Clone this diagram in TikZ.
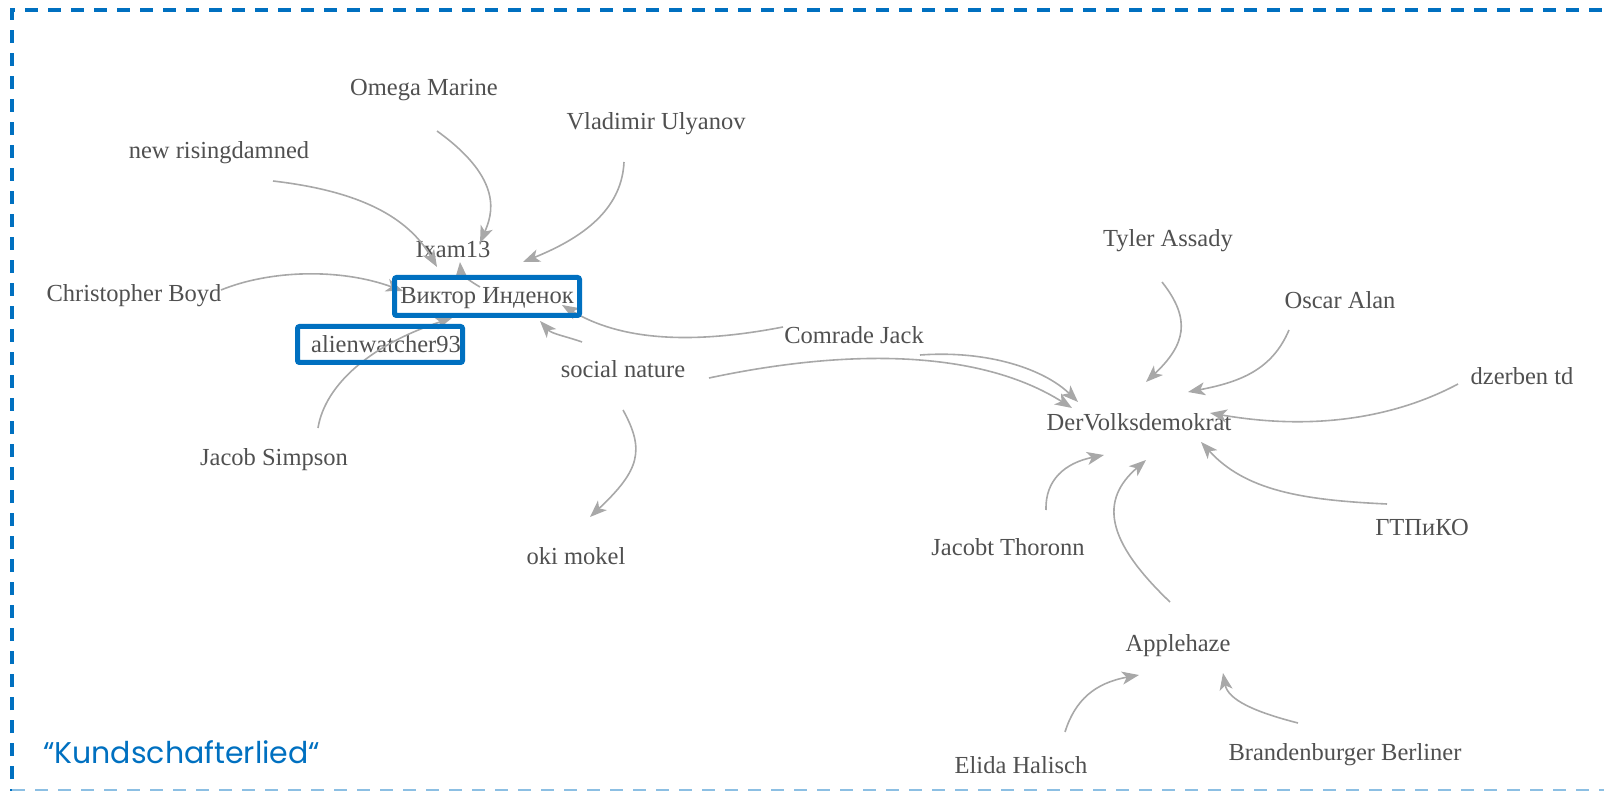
\documentclass[tikz,border=0pt]{standalone}
\usepackage{fontspec}
\setmainfont{Liberation Serif}
\newfontfamily\captionfont{Poppins}
\usetikzlibrary{calc,arrows.meta}
\definecolor{frameblue}{RGB}{0,112,192}
\definecolor{edgegray}{RGB}{168,168,168}
\definecolor{labelgray}{RGB}{80,80,80}
\tikzset{
  lbl/.style={inner sep=0pt, text=labelgray, text height=19pt, text depth=2pt,
    font=\fontsize{24.5}{28}\selectfont},
  edge/.style={draw=edgegray, line width=1.6pt,
    -{Stealth[length=17pt, width=13pt, inset=4.5pt]}},
  hlbox/.style={draw=frameblue, line width=5pt, rounded corners=2pt, inner sep=0pt},
}
\begin{document}
\begin{tikzpicture}[x=1pt, y=-1pt]
\useasboundingbox (0,0) rectangle (1604,791);
\clip (0,0) rectangle (1604,791);

% dashed frame
\draw[frameblue, line width=4pt, dash pattern=on 13pt off 10pt]
  (12,1630) -- (12,10) -- (1640,10);
\draw[frameblue!45, line width=4pt, dash pattern=on 13pt off 10pt]
  (12,791) -- (1640,791);

% labels
\node[lbl] (omega)    at (424,87)   {Omega Marine};
\node[lbl] (vlad)     at (656,121)  {Vladimir Ulyanov};
\node[lbl] (rising)   at (219,150)  {new risingdamned};
\node[lbl] (ixam)     at (453,249)  {Ixam13};
\node[lbl] (boyd)     at (134,293)  {Christopher Boyd};
\node[lbl] (viktor)   at (487,295)  {Виктор Инденок};
\node[lbl] (alien)    at (386,344)  {alienwatcher93};
\node[lbl] (jsimpson) at (274,457)  {Jacob Simpson};
\node[lbl] (social)   at (623,369)  {social nature};
\node[lbl] (comrade)  at (854,335)  {Comrade Jack};
\node[lbl] (oki)      at (576,556)  {oki mokel};
\node[lbl] (tyler)    at (1168,238) {Tyler Assady};
\node[lbl] (oscar)    at (1340,300) {Oscar Alan};
\node[lbl] (dzerben)  at (1522,376) {dzerben td};
\node[lbl] (dvd)      at (1139,422) {DerVolksdemokrat};
\node[lbl] (gtpiko)   at (1422,527) {ГТПиКО};
\node[lbl] (thoronn)  at (1008,547) {Jacobt Thoronn};
\node[lbl] (apple)    at (1178,643) {Applehaze};
\node[lbl] (elida)    at (1021,765) {Elida Halisch};
\node[lbl] (brand)    at (1345,752) {Brandenburger Berliner};

% connectors
\draw[edge] ($(omega)+(13,44)$) .. controls (505,180) and (492,215) .. ($(viktor)+(-7,-52)$);
\draw[edge] ($(rising)+(54,31)$) .. controls (350,190) and (405,212) .. ($(viktor)+(-50,-28)$);
\draw[edge] ($(vlad)+(-32,41)$) .. controls (622,205) and (590,235) .. ($(viktor)+(36,-33)$);
\draw[edge] ($(boyd)+(87,-3)$) .. controls (270,270) and (340,268) .. ($(viktor)+(-84,-4)$);
\draw[edge] ($(jsimpson)+(44,-29)$) .. controls (325,385) and (370,345) .. ($(viktor)+(-35,23)$);
\draw[edge] ($(viktor)+(-7,-8)$) .. controls (468,280) and (461,274) .. ($(ixam)+(7,13)$);
\draw[edge] ($(social)+(-41,-27)$) .. controls (565,336) and (552,334) .. ($(viktor)+(53,26)$);
\draw[edge] ($(comrade)+(-71,-8)$) .. controls (690,345) and (620,340) .. ($(viktor)+(75,10)$);
\draw[edge] ($(social)+(86,9)$) .. controls (850,348) and (980,350) .. ($(dvd)+(-67,-14)$);
\draw[edge] ($(comrade)+(66,20)$) .. controls (990,350) and (1045,370) .. ($(dvd)+(-61,-20)$);
\draw[edge] ($(social)+(0,41)$) .. controls (645,450) and (640,470) .. ($(oki)+(14,-39)$);
\draw[edge] ($(tyler)+(-6,44)$) .. controls (1192,320) and (1185,345) .. ($(dvd)+(7,-40)$);
\draw[edge] ($(oscar)+(-51,30)$) .. controls (1272,370) and (1240,382) .. ($(dvd)+(49,-30)$);
\draw[edge] ($(dzerben)+(-64,8)$) .. controls (1400,415) and (1320,432) .. ($(dvd)+(71,-9)$);
\draw[edge] ($(gtpiko)+(-35,-23)$) .. controls (1300,500) and (1245,490) .. ($(dvd)+(62,20)$);
\draw[edge] ($(thoronn)+(38,-37)$) .. controls (1045,480) and (1065,463) .. ($(dvd)+(-35,33)$);
\draw[edge] ($(apple)+(-8,-41)$) .. controls (1105,540) and (1100,500) .. ($(dvd)+(7,38)$);
\draw[edge] ($(elida)+(44,-33)$) .. controls (1075,700) and (1095,683) .. ($(apple)+(-39,32)$);
\draw[edge] ($(brand)+(-47,-29)$) .. controls (1255,712) and (1228,700) .. ($(apple)+(45,30)$);

% highlight boxes
\node[hlbox, minimum width=185pt, minimum height=38pt] (viktorbox) at ($(viktor)+(0,1.5)$) {};
\node[hlbox, minimum width=165pt, minimum height=36pt] (alienbox) at ($(alien)+(-6,0.5)$) {};

% caption
\node[anchor=base west, inner sep=0pt, text=frameblue,
  font=\captionfont\fontsize{30}{34}\selectfont] (caption) at (43,763) {“Kundschafterlied“};
\end{tikzpicture}
\end{document}
